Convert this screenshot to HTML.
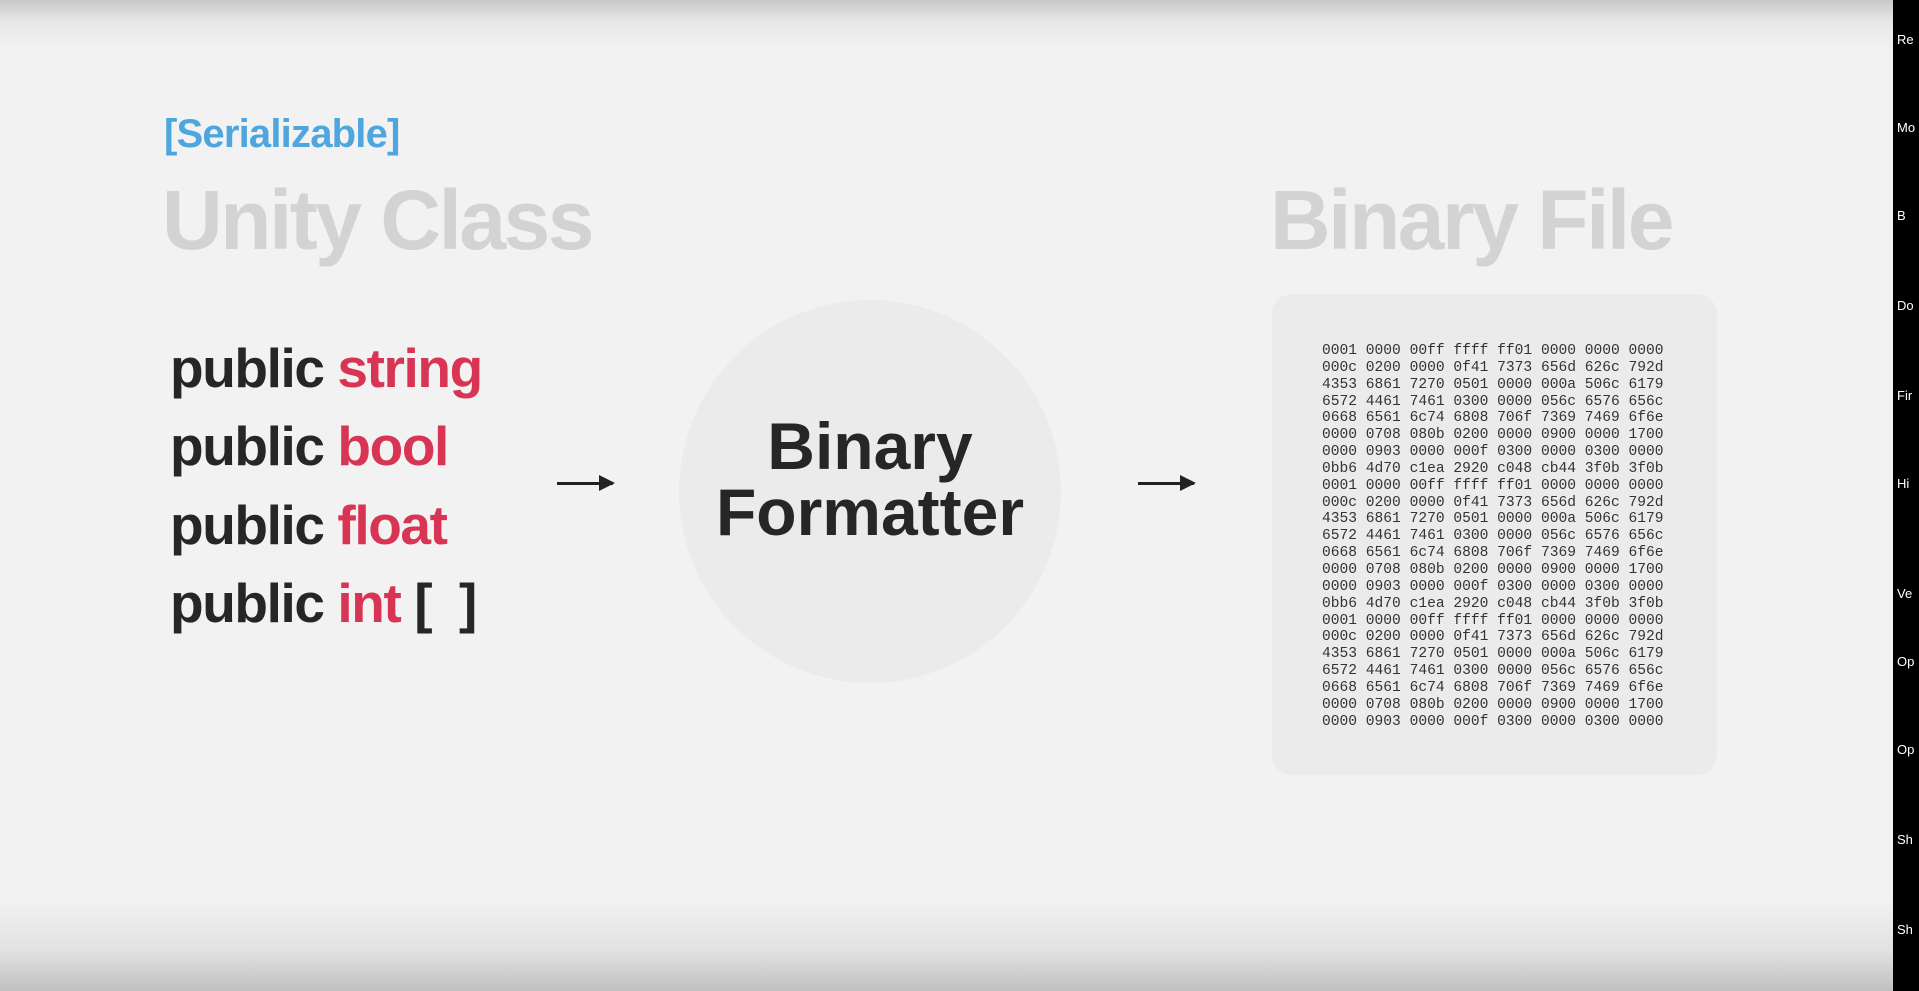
<!DOCTYPE html>
<html><head><meta charset="utf-8"><style>
*{margin:0;padding:0;box-sizing:border-box}
html,body{width:1919px;height:991px;overflow:hidden;background:#f2f2f2;position:relative;font-family:"Liberation Sans",sans-serif}
.bg{position:absolute;left:0;top:0;width:1893px;height:991px;background:linear-gradient(to bottom,#c8c8c8 0px,#e6e6e6 20px,#f2f2f2 50px,#f2f2f2 900px,#e2e2e2 950px,#c0c0c0 991px)}
.side{position:absolute;left:1893px;top:0;width:26px;height:991px;background:#000}
.t{position:absolute;white-space:nowrap;font-weight:bold}
.ser{left:164px;top:110px;font-size:40px;color:#4fa6de;line-height:48px;letter-spacing:-0.8px}
.h{font-size:84px;color:#d3d3d3;line-height:100px;letter-spacing:-2.5px}
.code{left:170px;font-size:55px;color:#262626;line-height:60px;letter-spacing:-1.4px}
.r{color:#d83454}
.arrow{position:absolute;height:3px;background:#222}
.arrow:after{content:"";position:absolute;right:-2px;top:-7px;border-left:16px solid #222;border-top:8px solid transparent;border-bottom:8px solid transparent}
.circle{position:absolute;left:679px;top:300px;width:382px;height:383px;border-radius:50%;background:#ebebeb}
.bf{left:670px;width:400px;text-align:center;font-size:66px;color:#262626;line-height:66px}
.box{position:absolute;left:1272px;top:294px;width:445px;height:481px;border-radius:20px;background:#ebebeb}
.hex{position:absolute;left:1322px;top:343px;font-family:"Liberation Mono",monospace;font-size:14.6px;line-height:16.85px;color:#333;white-space:pre}
.side span{position:absolute;left:4px;color:#fff;font-size:13px}
</style></head><body>
<div class="bg"></div>
<div class="t ser">[Serializable]</div>
<div class="t h" style="left:162px;top:170px">Unity Class</div>
<div class="t h" style="left:1270px;top:170px">Binary File</div>
<div class="t code" style="top:338px">public <span class="r">string</span></div>
<div class="t code" style="top:416px">public <span class="r">bool</span></div>
<div class="t code" style="top:495px">public <span class="r">float</span></div>
<div class="t code" style="top:573px">public <span class="r">int</span> [&nbsp;&nbsp;]</div>
<div class="arrow" style="left:557px;top:482px;width:56px"></div>
<div class="circle"></div>
<div class="t bf" style="top:413px">Binary</div>
<div class="t bf" style="top:479px">Formatter</div>
<div class="arrow" style="left:1138px;top:482px;width:56px"></div>
<div class="box"></div>
<div class="hex">0001 0000 00ff ffff ff01 0000 0000 0000
000c 0200 0000 0f41 7373 656d 626c 792d
4353 6861 7270 0501 0000 000a 506c 6179
6572 4461 7461 0300 0000 056c 6576 656c
0668 6561 6c74 6808 706f 7369 7469 6f6e
0000 0708 080b 0200 0000 0900 0000 1700
0000 0903 0000 000f 0300 0000 0300 0000
0bb6 4d70 c1ea 2920 c048 cb44 3f0b 3f0b
0001 0000 00ff ffff ff01 0000 0000 0000
000c 0200 0000 0f41 7373 656d 626c 792d
4353 6861 7270 0501 0000 000a 506c 6179
6572 4461 7461 0300 0000 056c 6576 656c
0668 6561 6c74 6808 706f 7369 7469 6f6e
0000 0708 080b 0200 0000 0900 0000 1700
0000 0903 0000 000f 0300 0000 0300 0000
0bb6 4d70 c1ea 2920 c048 cb44 3f0b 3f0b
0001 0000 00ff ffff ff01 0000 0000 0000
000c 0200 0000 0f41 7373 656d 626c 792d
4353 6861 7270 0501 0000 000a 506c 6179
6572 4461 7461 0300 0000 056c 6576 656c
0668 6561 6c74 6808 706f 7369 7469 6f6e
0000 0708 080b 0200 0000 0900 0000 1700
0000 0903 0000 000f 0300 0000 0300 0000</div>
<div class="side">
<span style="top:32px">Re</span><span style="top:120px">Mo</span><span style="top:208px">B</span><span style="top:298px">Do</span><span style="top:388px">Fir</span><span style="top:476px">Hi</span><span style="top:586px">Ve</span><span style="top:654px">Op</span><span style="top:742px">Op</span><span style="top:832px">Sh</span><span style="top:922px">Sh</span>
</div>
</body></html>
